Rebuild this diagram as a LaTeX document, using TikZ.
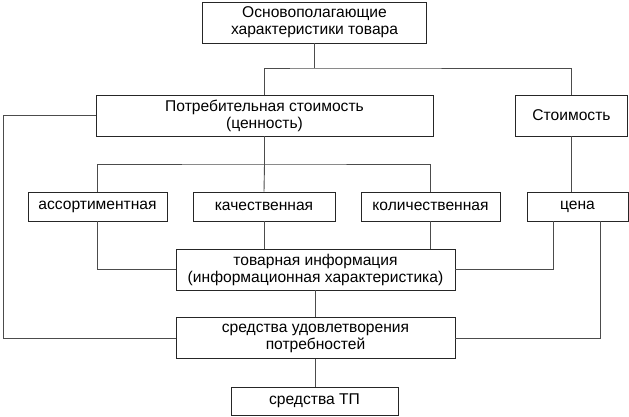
\documentclass[tikz,border=0pt]{standalone}
\usepackage{fontspec}
\setmainfont{Liberation Sans}
\begin{document}
\begin{tikzpicture}[x=1pt,y=-1pt,
  box/.style={draw=black!85,line width=0.9pt,inner sep=0pt,align=center,
    font=\fontsize{15.6}{17}\selectfont},
  conn/.style={draw=black!70,line width=0.9pt}]
\useasboundingbox (0,0) rectangle (629,416);
% nodes: centre, width, height
\node[box,minimum width=224,minimum height=41] (top) at (314.5,22.5) {Основополагающие\\характеристики товара};
\node[box,minimum width=337,minimum height=41] (potr) at (264.5,115.5) {Потребительная стоимость\\(ценность)};
\node[box,minimum width=112,minimum height=41] (stoim) at (571.5,115.5) {Стоимость};
\node[box,minimum width=139,minimum height=29] (assort) at (97.5,206.5) {ассортиментная};
\node[box,minimum width=142,minimum height=29] (kach) at (264,206.5) {качественная};
\node[box,minimum width=139,minimum height=29] (kol) at (430.5,206.5) {количественная};
\node[box,minimum width=101,minimum height=29] (cena) at (577.5,206.5) {цена};
\node[box,minimum width=279,minimum height=41] (tov) at (315.5,269.5) {товарная информация\\(информационная характеристика)};
\node[box,minimum width=279,minimum height=41] (sred) at (315.5,338) {средства удовлетворения\\потребностей};
\node[box,minimum width=167,minimum height=28] (tp) at (314.5,401) {средства ТП};
% junctions
\coordinate (j1) at (314.5,68);
\coordinate (j2) at (264.5,164);
\coordinate (lft) at (3,115.5);
\coordinate (rgt) at (600,338);
% connectors
\draw[conn] (top.south) -- (j1);
\draw[conn] (potr.north) |- (j1) -| (stoim.north);
\draw[conn] (potr.south) -- (j2);
\draw[conn] (assort.north) |- (j2) -| (kol.north);
\draw[conn] (j2) -- (kach.north);
\draw[conn] (stoim.south) -- (stoim.south |- cena.north);
\draw[conn] (potr.west) -- (lft) |- (sred.west);
\draw[conn] (assort.south) |- (tov.west);
\draw[conn] (kach.south) -- (kach.south |- tov.north);
\draw[conn] (kol.south) -- (kol.south |- tov.north);
\draw[conn] (cena.south -| 553,0) |- (tov.east);
\draw[conn] (cena.south -| rgt) -- (rgt) -- (sred.east);
\draw[conn] (tov.south) -- (tov.south |- sred.north);
\draw[conn] (sred.south) -- (sred.south |- tp.north);
\end{tikzpicture}
\end{document}
